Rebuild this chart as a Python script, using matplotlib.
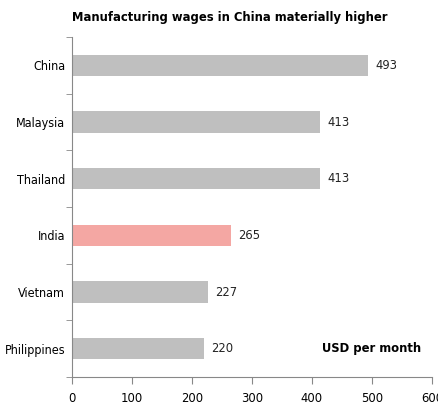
import matplotlib
matplotlib.use("Agg")
import matplotlib.pyplot as plt
from matplotlib import font_manager as fm

countries = ["China", "Malaysia", "Thailand", "India", "Vietnam", "Philippines"]
wages = [493, 413, 413, 265, 227, 220]
highlight = "India"

# pick a narrow face if there is one
fonts = fm.fontManager.ttflist
names = {f.name for f in fonts}
stretch = 'normal'
if 'Liberation Sans Narrow' in names:
    family = 'Liberation Sans Narrow'
elif any(f.name == 'DejaVu Sans' and f.stretch == 'condensed' for f in fonts):
    family = 'DejaVu Sans'
    stretch = 'condensed'
else:
    family = 'Liberation Sans'
plt.rcParams['font.family'] = [family, 'DejaVu Sans']
plt.rcParams['font.stretch'] = stretch

fs = 9.3
title_fs = 9.3

fig = plt.figure(figsize=(4.39, 4.08), dpi=100)
ax = fig.add_axes([72 / 439, 1 - 377 / 408, 360 / 439, 340 / 408])

ypos = list(range(len(countries)))[::-1]
colors = ['#F4A7A3' if c == highlight else '#BFBFBF' for c in countries]
ax.barh(ypos, wages, height=0.38, color=colors)

for y, w in zip(ypos, wages):
    ax.text(w + 12, y, str(w), va='center', ha='left', fontsize=fs, color='#222222')

ax.set_xlim(0, 600)
ax.set_ylim(-0.5, len(countries) - 0.5)
ax.set_xticks(range(0, 601, 100))
ax.set_yticks(ypos)
ax.set_yticklabels(countries)
ax.set_yticks([i - 0.5 for i in range(len(countries) + 1)], minor=True)
ax.tick_params(axis='y', which='major', length=0, pad=5, labelsize=9)
ax.tick_params(axis='y', which='minor', length=4, color='#888888')
ax.tick_params(axis='x', length=5, color='#888888', labelsize=fs, pad=6)

for s in ['top', 'right']:
    ax.spines[s].set_visible(False)
for s in ['left', 'bottom']:
    ax.spines[s].set_color('#888888')

ax.text(0.97, 0.5 / 6, "USD per month", transform=ax.transAxes, ha='right', va='center',
        fontsize=fs, fontweight='bold')

fig.text(230 / 439, 1 - 18 / 408, "Manufacturing wages in China materially higher",
         ha='center', va='center', fontsize=title_fs, fontweight='bold')

fig.savefig("out.png", dpi=100)
